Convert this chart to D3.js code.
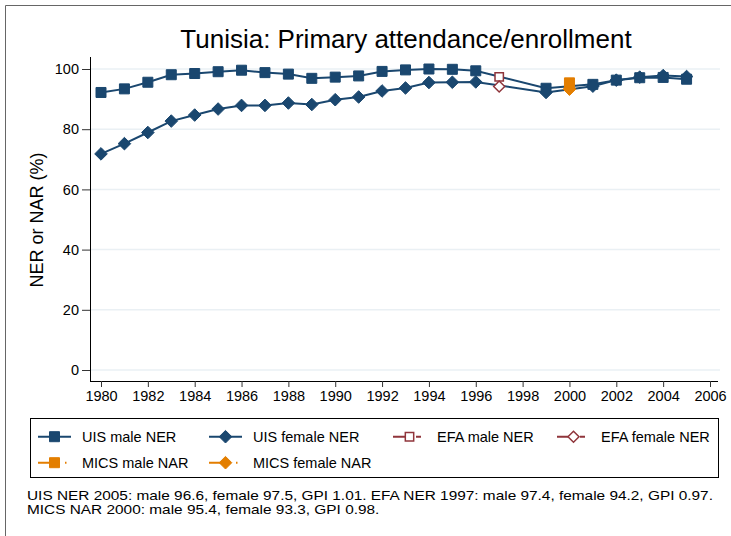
<!DOCTYPE html>
<html><head><meta charset="utf-8">
<script src="https://cdn.jsdelivr.net/npm/d3@7"></script>
<style>body{margin:0;background:#fff}svg{display:block}text{font-family:"Liberation Sans",Arial,sans-serif;fill:#000}</style>
</head><body><svg id="c" width="731" height="536"></svg>
<script>
const uisYears = [1980,1981,1982,1983,1984,1985,1986,1987,1988,1989,1990,1991,1992,1993,1994,1995,1996,1999,2001,2002,2003,2004,2005];
const uisMale = [92.2,93.4,95.6,98.1,98.5,99.1,99.6,98.8,98.3,96.9,97.3,97.7,99.2,99.7,100.0,99.9,99.4,93.6,94.9,96.3,97.1,97.2,96.6];
const uisFemale = [71.8,75.2,78.9,82.7,84.7,86.7,87.9,87.9,88.7,88.2,89.8,90.7,92.7,93.7,95.5,95.6,95.7,92.2,94.3,96.3,97.3,97.8,97.5];
const efaYears = [1997];
const efaMale = [97.4];
const efaFemale = [94.2];
const micsYears = [2000];
const micsMale = [95.4];
const micsFemale = [93.3];
const xTicks = [1980,1982,1984,1986,1988,1990,1992,1994,1996,1998,2000,2002,2004,2006];
const yTicks = [0,20,40,60,80,100];
const titleText = "Tunisia: Primary attendance/enrollment";
const yTitle = "NER or NAR (%)";
const legendLabels = ["UIS male NER","UIS female NER","EFA male NER","EFA female NER","MICS male NAR","MICS female NAR"];
const notes = ["UIS NER 2005: male 96.6, female 97.5, GPI 1.01. EFA NER 1997: male 97.4, female 94.2, GPI 0.97.","MICS NAR 2000: male 95.4, female 93.3, GPI 0.98."];

const NAVY="#1a476f", MAROON="#90353b", ORANGE="#e37e00";
const FONT="Liberation Sans, Arial, sans-serif";
const svg = d3.select("#c");
svg.append("rect").attr("width",731).attr("height",536).attr("fill","#fff");
svg.append("path").attr("d","M5.5,536V5.5H731").attr("fill","none").attr("stroke","#666").attr("stroke-width",1);

const x = d3.scaleLinear().domain([1980,2006]).range([101,710]);
const y = d3.scaleLinear().domain([0,100]).range([370,69]);

svg.append("g").selectAll("line").data(yTicks).join("line")
  .attr("x1",91).attr("x2",720).attr("y1",d=>y(d)).attr("y2",d=>y(d))
  .attr("stroke","#eaf0f4").attr("stroke-width",1.5);

const ax = svg.append("g").attr("transform","translate(0,381)")
  .call(d3.axisBottom(x).tickValues(xTicks).tickFormat(d3.format("d")).tickSize(6).tickPadding(4));
ax.select(".domain").attr("d","M90,0.5H718");
const ay = svg.append("g").attr("transform","translate(90,0)")
  .call(d3.axisLeft(y).tickValues(yTicks).tickSize(8).tickPadding(3));
ay.select(".domain").attr("d","M0.5,57V381");
svg.selectAll(".tick text").attr("font-size",14.5).attr("font-family",FONT);
svg.selectAll(".tick line").attr("stroke","#333");
svg.selectAll(".domain").attr("stroke","#000");

svg.append("text").attr("x",406).attr("y",48).attr("text-anchor","middle").attr("font-size",26).text(titleText);
svg.append("text").attr("transform","translate(43,220) rotate(-90)").attr("text-anchor","middle").attr("font-size",18).text(yTitle);

const sq = d3.symbol().type(d3.symbolSquare).size(100);
const sqH = d3.symbol().type(d3.symbolSquare).size(70);
const diamond = r => `M0,${-r}L${r},0L0,${r}L${-r},0Z`;
const dm = diamond(6.3), dmH = diamond(5.5);

function series(xs, ys, color, sym, filled){
  const pts = xs.map((v,i)=>[v,ys[i]]);
  const g = svg.append("g");
  if(pts.length>1) g.append("path").attr("d",d3.line().x(d=>x(d[0])).y(d=>y(d[1]))(pts))
    .attr("fill","none").attr("stroke",color).attr("stroke-width",2);
  g.selectAll("path.m").data(pts).join("path").attr("class","m")
    .attr("transform",d=>`translate(${x(d[0])},${y(d[1])})`)
    .attr("d",sym).attr("fill",filled?color:"#fff").attr("stroke",color).attr("stroke-width",filled?1:1.5);
}
series(uisYears,uisMale,NAVY,sq,true);
series(uisYears,uisFemale,NAVY,dm,true);
series(efaYears,efaMale,MAROON,sqH,false);
series(efaYears,efaFemale,MAROON,dmH,false);
series(micsYears,micsMale,ORANGE,sq,true);
series(micsYears,micsFemale,ORANGE,dm,true);

svg.append("rect").attr("x",30.5).attr("y",418.5).attr("width",688).attr("height",59).attr("fill","#fff").attr("stroke","#000");
const legendItems = [
  {c:NAVY,s:sq,f:true,dash:null,x:38,y:436.7},
  {c:NAVY,s:dm,f:true,dash:null,x:209,y:436.7},
  {c:MAROON,s:sqH,f:false,dash:"20,3,5,10",x:393,y:436.7},
  {c:MAROON,s:dmH,f:false,dash:"20,3,5,10",x:557,y:436.7},
  {c:ORANGE,s:sq,f:true,dash:"17,10,1.5,10",x:38,y:462.7},
  {c:ORANGE,s:dm,f:true,dash:"17,10,1.5,10",x:209,y:462.7}
];
legendItems.forEach((it,i)=>{
  const g = svg.append("g");
  g.append("line").attr("x1",it.x).attr("x2",it.x+33).attr("y1",it.y).attr("y2",it.y)
    .attr("stroke",it.c).attr("stroke-width",2).attr("stroke-dasharray",it.dash);
  g.append("path").attr("transform",`translate(${it.x+16.5},${it.y})`).attr("d",it.s)
    .attr("fill",it.f?it.c:"#fff").attr("stroke",it.c).attr("stroke-width",it.f?1:1.5);
  g.append("text").attr("x",it.x+44).attr("y",it.y+5.2).attr("font-size",14.5).text(legendLabels[i]);
});
notes.forEach((t,i)=>svg.append("text").attr("transform",`translate(27,${500+i*13.5}) scale(${15.4/13.4},1)`)
  .attr("font-size",13.4).text(t));
</script></body></html>
